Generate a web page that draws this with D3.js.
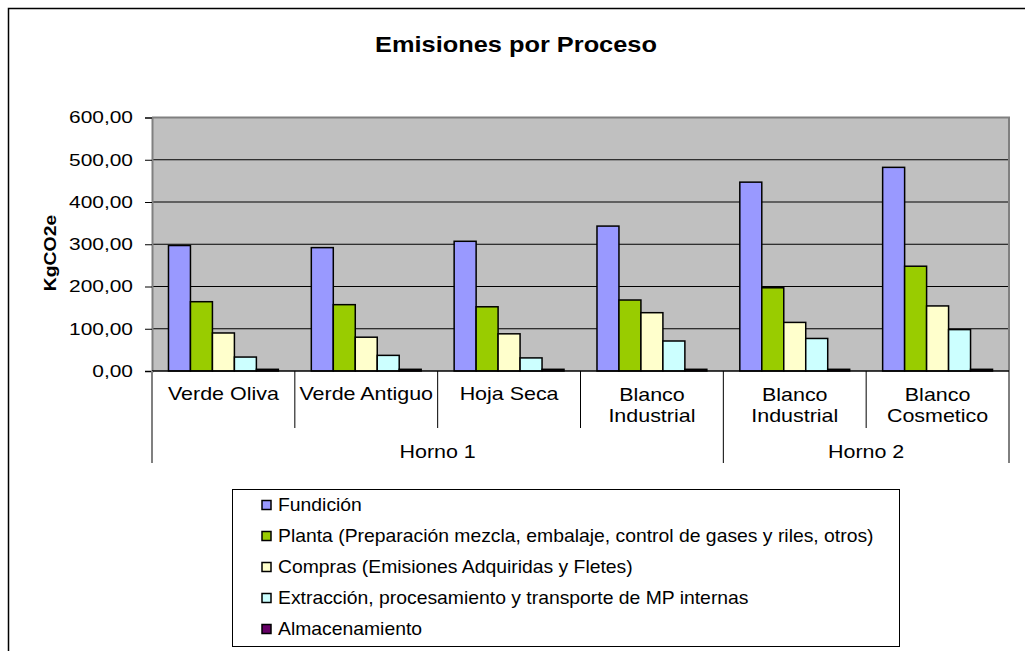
<!DOCTYPE html>
<html>
<head>
<meta charset="utf-8">
<script src="https://cdn.jsdelivr.net/npm/d3@7"></script>
<style>
  body { margin:0; background:#fff; }
  text { font-family: "Liberation Sans", Arial, sans-serif; fill:#000; }
</style>
</head>
<body>
<div id="chart"></div>
<script>
// categorias (procesos) y horno al que pertenecen
var categories = ["Verde Oliva", "Verde Antiguo", "Hoja Seca", "Blanco Industrial", "Blanco Industrial", "Blanco Cosmetico"];
var catLabels = [["Verde Oliva"], ["Verde Antiguo"], ["Hoja Seca"], ["Blanco", "Industrial"], ["Blanco", "Industrial"], ["Blanco", "Cosmetico"]];
var hornos = ["Horno 1", "Horno 1", "Horno 1", "Horno 1", "Horno 2", "Horno 2"];

var seriesNames = [
    "Fundición",
    "Planta (Preparación mezcla, embalaje, control de gases y riles, otros)",
    "Compras (Emisiones Adquiridas y Fletes)",
    "Extracción, procesamiento y transporte de MP internas",
    "Almacenamiento"
];
var fundicion      = [297, 292, 307, 343, 447, 482];
var planta         = [164, 157, 152, 168, 197, 248];
var compras        = [ 90,  80,  88, 138, 115, 154];
var extraccion     = [ 33,  37,  31,  71,  77,  98];
var almacenamiento = [  4,   4,   4,   4,   4,   4];

var yTicks = [0, 100, 200, 300, 400, 500, 600];

var seriesValues = [fundicion, planta, compras, extraccion, almacenamiento];
var colors = ["#9999FF", "#99CC00", "#FFFFCC", "#CCFFFF", "#660066"];

var W = 1025, H = 651;
var plot = {l:152, r:1009, t:117.5, b:371};

var svg = d3.select("#chart")
    .append("svg")
    .attr("width", W)
    .attr("height", H);

// borde exterior
svg.append("rect")
    .attr("x", 8.5).attr("y", 8.5)
    .attr("width", W + 20).attr("height", H + 20)
    .attr("fill", "none")
    .attr("stroke", "#000")
    .attr("stroke-width", 1.5);

var x0 = d3.scaleBand()
    .domain(d3.range(categories.length))
    .range([plot.l, plot.r]);

var x1 = d3.scaleBand()
    .domain(d3.range(seriesNames.length))
    .range([0, x0.bandwidth()])
    .paddingInner(0)
    .paddingOuter(0.75);

var y = d3.scaleLinear()
    .domain([0, 600])
    .range([plot.b, plot.t]);

// fondo del area de trazado
svg.append("rect")
    .attr("x", plot.l).attr("y", plot.t)
    .attr("width", plot.r - plot.l).attr("height", plot.b - plot.t)
    .attr("fill", "#C0C0C0");

// lineas de division
svg.selectAll(".grid")
    .data(yTicks.filter(function(d){ return d > 0 && d < 600; }))
    .enter()
    .append("line")
    .attr("class", "grid")
    .attr("x1", plot.l).attr("x2", plot.r)
    .attr("y1", function(d){ return y(d); })
    .attr("y2", function(d){ return y(d); })
    .attr("stroke", "#000")
    .attr("stroke-width", 1);

svg.append("path")
    .attr("d", "M" + plot.l + "," + plot.t + "H" + plot.r + "V" + plot.b)
    .attr("fill", "none")
    .attr("stroke", "#808080")
    .attr("stroke-width", 2);

// barras
var rows = categories.map(function(c, i){
    return seriesValues.map(function(s, j){ return {cat:i, s:j, v:s[i]}; });
});

var g = svg.selectAll(".cat")
    .data(rows)
    .enter()
    .append("g")
    .attr("class", "cat")
    .attr("transform", function(d, i){ return "translate(" + x0(i) + ",0)"; });

g.selectAll("rect")
    .data(function(d){ return d; })
    .enter()
    .append("rect")
    .attr("x", function(d){ return x1(d.s); })
    .attr("y", function(d){ return y(d.v); })
    .attr("width", x1.bandwidth())
    .attr("height", function(d){ return y(0) - y(d.v); })
    .attr("fill", function(d){ return colors[d.s]; })
    .attr("stroke", "#000")
    .attr("stroke-width", 1.5);

// eje y
var tsx = 1.23;
var yAxis = svg.append("g")
    .attr("transform", "translate(" + plot.l + ",0)")
    .call(d3.axisLeft(y)
        .tickValues(yTicks)
        .tickSize(7)
        .tickPadding(0)
        .tickFormat(function(d){ return d3.format(".2f")(d).replace(".", ","); }));

yAxis.select(".domain").attr("stroke", "#808080").attr("stroke-width", 2);
yAxis.selectAll(".tick line").attr("stroke", "#000");
yAxis.selectAll(".tick text")
    .attr("x", -19 / tsx)
    .attr("transform", "scale(" + tsx + ",1)")
    .style("font-size", "17px")
    .attr("fill", "#000");

// eje x
svg.append("line")
    .attr("x1", plot.l).attr("x2", plot.r)
    .attr("y1", plot.b).attr("y2", plot.b)
    .attr("stroke", "#000")
    .attr("stroke-width", 1.5);

svg.selectAll(".sep")
    .data(d3.range(1, categories.length))
    .enter()
    .append("line")
    .attr("class", "sep")
    .attr("x1", function(d){ return x0(d); })
    .attr("x2", function(d){ return x0(d); })
    .attr("y1", plot.b)
    .attr("y2", function(d){ return hornos[d] != hornos[d - 1] ? 463 : 428; })
    .attr("stroke", "#000");

svg.selectAll(".edge")
    .data([plot.l, plot.r])
    .enter()
    .append("line")
    .attr("class", "edge")
    .attr("x1", function(d){ return d; })
    .attr("x2", function(d){ return d; })
    .attr("y1", plot.b)
    .attr("y2", 463)
    .attr("stroke", function(d, i){ return i == 0 ? "#808080" : "#000"; })
    .attr("stroke-width", function(d, i){ return i == 0 ? 2 : 1; });

var csx = 1.16;
svg.selectAll(".catlabel")
    .data(catLabels)
    .enter()
    .append("text")
    .attr("class", "catlabel")
    .attr("text-anchor", "middle")
    .attr("transform", function(d, i){
        return "translate(" + (x0(i) + x0.bandwidth() / 2) + "," + (d.length > 1 ? 401 : 400) + ") scale(" + csx + ",1)";
    })
    .style("font-size", "18.5px")
    .each(function(d){
        var t = d3.select(this);
        d.forEach(function(line, k){
            t.append("tspan").attr("x", 0).attr("dy", k == 0 ? 0 : 21.5).text(line);
        });
    });

var hornoNames = Array.from(new Set(hornos));
svg.selectAll(".horno")
    .data(hornoNames)
    .enter()
    .append("text")
    .attr("class", "horno")
    .attr("text-anchor", "middle")
    .attr("transform", function(d){
        var idx = d3.range(hornos.length).filter(function(i){ return hornos[i] == d; });
        var a = x0(idx[0]), b = x0(idx[idx.length - 1]) + x0.bandwidth();
        return "translate(" + ((a + b) / 2) + ",458) scale(" + csx + ",1)";
    })
    .style("font-size", "18.5px")
    .text(function(d){ return d; });

// titulo
svg.append("text")
    .attr("text-anchor", "middle")
    .attr("transform", "translate(516,52) scale(1.18,1)")
    .style("font-size", "21.5px")
    .style("font-weight", "bold")
    .text("Emisiones por Proceso");

// titulo eje y
svg.append("text")
    .attr("text-anchor", "middle")
    .attr("transform", "translate(56,253) rotate(-90) scale(1.14,1)")
    .style("font-size", "17px")
    .style("font-weight", "bold")
    .text("KgCO2e");

// leyenda
var legend = svg.append("g");
legend.append("rect")
    .attr("x", 232.5).attr("y", 489.5)
    .attr("width", 667).attr("height", 157)
    .attr("fill", "#fff")
    .attr("stroke", "#000");

var li = legend.selectAll(".li")
    .data(seriesNames)
    .enter()
    .append("g")
    .attr("class", "li")
    .attr("transform", function(d, i){ return "translate(262," + (511 + i * 31) + ")"; });

li.append("rect")
    .attr("x", 0).attr("y", -10.5)
    .attr("width", 9).attr("height", 9)
    .attr("fill", function(d, i){ return colors[i]; })
    .attr("stroke", "#000")
    .attr("stroke-width", 1.5);

li.append("text")
    .attr("transform", "translate(16,0) scale(1.106,1)")
    .style("font-size", "17.5px")
    .text(function(d){ return d; });
</script>
</body>
</html>
